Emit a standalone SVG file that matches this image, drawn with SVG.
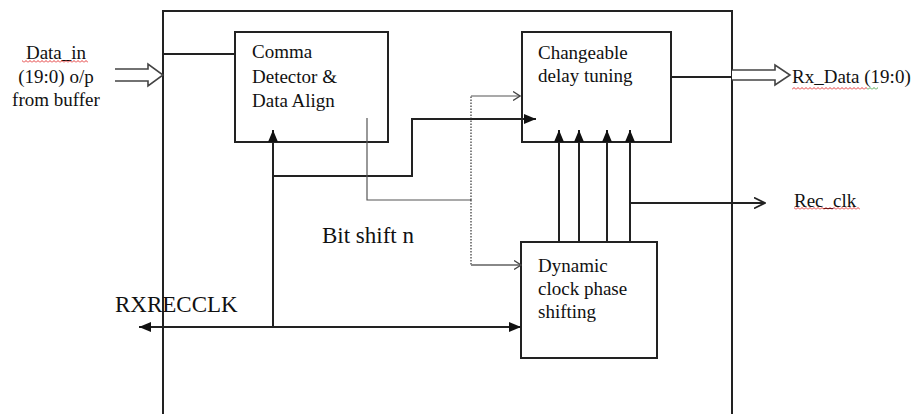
<svg xmlns="http://www.w3.org/2000/svg" width="922" height="414" viewBox="0 0 922 414">
<style>
text{font-family:"Liberation Serif","Times New Roman",serif;fill:#111;}
.t{font-size:19px;}
.big{font-size:23px;}
.box{fill:#fff;stroke:#222;stroke-width:2;}
.ln{fill:none;stroke:#222;stroke-width:2;}
.thin{fill:none;stroke:#555;stroke-width:1.2;}
.gray{fill:none;stroke:#888;stroke-width:2;}
.dot{fill:none;stroke:#333;stroke-width:1.2;stroke-dasharray:1.5 1.5;}
.hollow{fill:#fff;stroke:#444;stroke-width:1.6;}
</style>
<defs>
<marker id="fa" viewBox="0 0 12 10" refX="12" refY="5" markerWidth="12" markerHeight="10" markerUnits="userSpaceOnUse" orient="auto"><path d="M0 0 L12 5 L0 10 Z" fill="#111"/></marker>
<marker id="oa" viewBox="0 0 8 10" refX="7.5" refY="5" markerWidth="8" markerHeight="10" markerUnits="userSpaceOnUse" orient="auto"><path d="M0.5 0.5 L7.5 5 L0.5 9.5" fill="none" stroke="#444" stroke-width="1.3"/></marker>
<marker id="oab" viewBox="0 0 12 12" refX="11.5" refY="6" markerWidth="12" markerHeight="12" markerUnits="userSpaceOnUse" orient="auto"><path d="M0.5 0.5 L11.5 6 L0.5 11.5" fill="none" stroke="#222" stroke-width="1.6"/></marker>
<pattern id="sqr" width="4" height="3" patternUnits="userSpaceOnUse"><path d="M0 2.5 L2 0.5 L4 2.5" fill="none" stroke="#e02020" stroke-width="0.9"/></pattern>
<pattern id="sqg" width="4" height="3" patternUnits="userSpaceOnUse"><path d="M0 2.5 L2 0.5 L4 2.5" fill="none" stroke="#3a9a3a" stroke-width="0.9"/></pattern>
</defs>

<g id="outer">
<path class="ln" d="M163 416 V11 H732 V416"/>
</g>

<g id="comma">
<rect class="box" x="235" y="32" width="153" height="110"/>
<text class="t" x="252" y="58">Comma</text>
<text class="t" x="252" y="83">Detector &amp;</text>
<text class="t" x="252" y="107">Data Align</text>
</g>

<g id="changeable">
<rect class="box" x="522" y="32" width="149" height="110"/>
<text class="t" x="538" y="59">Changeable</text>
<text class="t" x="538" y="82">delay tuning</text>
</g>

<g id="dynamic">
<rect class="box" x="521" y="242" width="136" height="116"/>
<text class="t" x="538" y="272">Dynamic</text>
<text class="t" x="538" y="295">clock phase</text>
<text class="t" x="538" y="318">shifting</text>
</g>

<g id="connectors">
<!-- input bus -->
<path class="ln" d="M163 54 H235"/>
<path class="hollow" d="M115 69 H148 V64 L163 75 L148 86 V81 H115"/>
<!-- output bus -->
<path class="ln" d="M671 77 H732"/>
<path class="hollow" d="M732 70 H775 V65 L790 75 L775 85 V80 H732"/>
<!-- RXRECCLK -->
<path class="ln" d="M273 327 H139" marker-end="url(#fa)"/>
<path class="ln" d="M273 327 H521" marker-end="url(#fa)"/>
<path class="ln" d="M273 327 V130" marker-end="url(#fa)"/>
<!-- clock to changeable -->
<path class="ln" d="M273 176 H412 V119 H536" marker-end="url(#fa)"/>
<!-- bit shift thin -->
<path class="thin" d="M367 118 V200 H471"/>
<path class="dot" d="M471 200 V96"/>
<path class="dot" d="M471 200 V265"/>
<path class="thin" d="M471 96 H520" marker-end="url(#oa)"/>
<path class="gray" d="M471 265 H521" marker-end="url(#oa)" stroke-width="1.6"/>
<!-- four phase lines -->
<path class="ln" d="M559 242 V130" marker-end="url(#fa)"/>
<path class="ln" d="M579 242 V130" marker-end="url(#fa)"/>
<path class="ln" d="M607 242 V130" marker-end="url(#fa)"/>
<path class="ln" d="M630 242 V130" marker-end="url(#fa)" stroke="#666"/>
<!-- rec clk -->
<path class="ln" d="M630 203 H765" marker-end="url(#oab)"/>
</g>

<g id="labels">
<text class="t" x="56" y="59" text-anchor="middle">Data_in</text>
<text class="t" x="56" y="83" text-anchor="middle">(19:0) o/p</text>
<text class="t" x="56" y="106" text-anchor="middle">from buffer</text>
<rect x="22" y="60" width="66" height="3" fill="url(#sqr)"/>
<text class="t" x="792" y="83">Rx_Data (19:0)</text>
<rect x="792" y="87" width="75" height="3" fill="url(#sqr)"/>
<rect x="867" y="87" width="11" height="3" fill="url(#sqg)"/>
<text class="t" x="794" y="207">Rec_clk</text>
<rect x="794" y="207" width="66" height="3" fill="url(#sqr)"/>
<text class="big" x="322" y="243">Bit shift n</text>
<text class="big" x="115" y="312">RXRECCLK</text>
</g>
</svg>
